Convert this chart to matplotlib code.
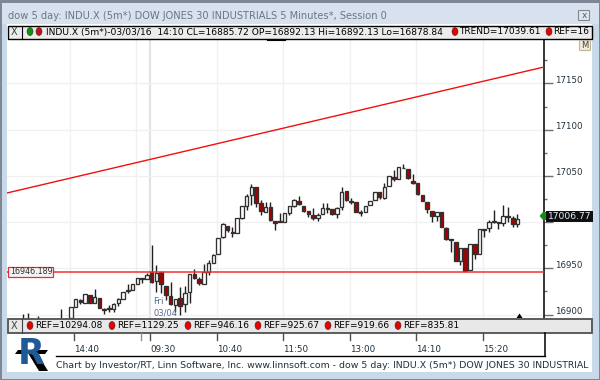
import matplotlib
matplotlib.use('Agg')
import matplotlib.pyplot as plt
import matplotlib.patches as mpatches
import numpy as np

# 5 minute bars, index 0 is the first bar after the 14:40 tick
barIndex = list(range(-11, 94))
openP = [16888, 16890, 16888, 16890, 16886, 16887, 16888, 16886, 16888, 16887, 16896,
         16908, 16916, 16913, 16921, 16913, 16918, 16906, 16907, 16906, 16912,
         16917, 16925, 16926, 16933, 16938, 16938, 16946, 16936, 16946, 16931,
         16920, 16910, 16918, 16911, 16924, 16944, 16938, 16933, 16946, 16956,
         16966, 16984, 16996, 16989, 16988, 17004, 17017, 17029, 17038, 17021,
         17011, 17016, 17001, 17000, 17000, 17010, 17017, 17023, 17017, 17012,
         17008, 17004, 17009, 17015, 17014, 17009, 17016, 17034, 17023, 17022,
         17011, 17011, 17018, 17024, 17033, 17026, 17039, 17049, 17047, 17058,
         17057, 17045, 17042, 17029, 17022, 17012, 17007, 17011, 16994, 16982,
         16979, 16958, 16972, 16948, 16976, 16965, 16992, 16994, 17000, 17000,
         16999, 17007, 17004, 16998]
highP = [16901, 16902, 16893, 16898, 16892, 16892, 16893, 16892, 16906, 16892, 16908,
         16908, 16917, 16922, 16921, 16928, 16918, 16907, 16910, 16912, 16918,
         16924, 16933, 16933, 16939, 16939, 16945, 16975, 16954, 16946, 16931,
         16935, 16917, 16930, 16931, 16944, 16949, 16941, 16955, 16959, 16966,
         16983, 16999, 16996, 16995, 17004, 17017, 17030, 17041, 17038, 17024,
         17022, 17022, 17001, 17010, 17010, 17017, 17025, 17028, 17017, 17012,
         17015, 17010, 17021, 17021, 17014, 17016, 17038, 17034, 17026, 17022,
         17013, 17017, 17023, 17033, 17033, 17042, 17050, 17056, 17060, 17063,
         17057, 17052, 17042, 17029, 17022, 17012, 17011, 17011, 16995, 16982,
         16979, 16958, 16972, 16976, 16976, 16992, 16992, 17002, 17013, 17000,
         17018, 17016, 17007, 17009]
lowP = [16885, 16886, 16884, 16886, 16882, 16883, 16884, 16882, 16884, 16884, 16894,
        16908, 16911, 16913, 16912, 16913, 16907, 16901, 16903, 16903, 16909,
        16917, 16923, 16926, 16933, 16934, 16938, 16934, 16924, 16923, 16916,
        16910, 16903, 16899, 16903, 16913, 16938, 16932, 16933, 16943, 16956,
        16966, 16983, 16989, 16984, 16988, 17003, 17013, 17018, 17016, 17008,
        17011, 17001, 16991, 17000, 17000, 17008, 17016, 17018, 17011, 17005,
        17002, 17001, 17009, 17010, 17008, 17004, 17013, 17023, 17020, 17011,
        17007, 17011, 17018, 17024, 17025, 17025, 17039, 17045, 17047, 17058,
        17047, 17041, 17029, 17023, 17010, 17000, 17001, 16995, 16981, 16968,
        16958, 16954, 16947, 16948, 16960, 16965, 16984, 16989, 16999, 16992,
        16996, 17000, 16995, 16995]
closeP = [16892, 16888, 16890, 16888, 16889, 16885, 16890, 16884, 16890, 16885, 16908,
          16917, 16914, 16922, 16912, 16919, 16907, 16905, 16906, 16911, 16917,
          16924, 16926, 16933, 16939, 16939, 16943, 16935, 16945, 16933, 16921,
          16911, 16917, 16909, 16923, 16944, 16939, 16934, 16946, 16956, 16964,
          16983, 16998, 16991, 16988, 17004, 17017, 17028, 17038, 17021, 17012,
          17016, 17002, 16999, 17001, 17010, 17017, 17024, 17020, 17012, 17009,
          17004, 17008, 17015, 17014, 17009, 17015, 17033, 17024, 17022, 17011,
          17010, 17017, 17023, 17033, 17027, 17038, 17050, 17047, 17060, 17059,
          17048, 17042, 17030, 17023, 17014, 17007, 17011, 16995, 16982, 16981,
          16958, 16972, 16947, 16976, 16965, 16992, 16991, 17000, 17001, 16999,
          17007, 17006, 16998, 17003]

trendP = [17031.5, 17167.8]
refP = 16946.189
lastP = 17006.77

priceTicks = [16900, 16950, 17000, 17050, 17100, 17150]
priceLabels = ['16900', '16950', '', '17050', '17100', '17150']
minorTicks = [16925, 16975, 17025, 17075, 17125, 17175]
timeTickIndex = [0, 14, 16, 30, 44, 58, 72, 86]
timeLabelIndex = [0, 16, 30, 44, 58, 72, 86]
timeLabels = ['14:40', '09:30', '10:40', '11:50', '13:00', '14:10', '15:20']
gridIndex = [-1, 13, 16, 30, 44, 58, 72, 86]

header1 = 'INDU.X (5m*)-03/03/16  14:10 CL=16885.72 OP=16892.13 Hi=16892.13 Lo=16878.84'
headerRefs = ['TREND=17039.61', 'REF=16']
footRefs = ['REF=10294.08', 'REF=1129.25', 'REF=946.16', 'REF=925.67', 'REF=919.66', 'REF=835.81']

title = 'dow 5 day: INDU.X (5m*) DOW JONES 30 INDUSTRIALS 5 Minutes*, Session 0'
footer = 'Chart by Investor/RT, Linn Software, Inc. www.linnsoft.com - dow 5 day: INDU.X (5m*) DOW JONES 30 INDUSTRIAL'

FONT = 'DejaVu Sans'
W, H = 600.0, 380.0

fig = plt.figure(figsize=(6, 3.8), dpi=100, facecolor='#c8d9ea')

# whole window in pixels, behind the chart
back = fig.add_axes([0, 0, 1, 1], zorder=0)
back.set_xlim(0, W)
back.set_ylim(H, 0)
back.axis('off')
back.add_patch(mpatches.Rectangle((0, 0), 600, 380, fc='#c8d9ea', ec='none'))
back.add_patch(mpatches.Rectangle((0, 0), 600, 3, fc='#7d8795', ec='none'))
back.add_patch(mpatches.Rectangle((0, 3), 600, 21, fc='#d7e2ee', ec='none'))
back.add_patch(mpatches.Rectangle((0, 0), 1.5, 380, fc='#7d8795', ec='none'))
back.add_patch(mpatches.Rectangle((598.5, 0), 1.5, 380, fc='#7d8795', ec='none'))
back.add_patch(mpatches.Rectangle((0, 378.5), 600, 1.5, fc='#7d8795', ec='none'))
back.add_patch(mpatches.Rectangle((7, 24), 585, 348, fc='white', ec='none'))

# price chart, x 7..544 and y 39..333 in pixels
ax = fig.add_axes([7 / W, 1 - 333 / H, 537 / W, 294 / H], zorder=1)
ax.set_xlim(-14.46, 98.59)
ax.set_ylim(16880.0, 17198.1)
ax.patch.set_alpha(0)
for s in ['top', 'left', 'bottom']:
    ax.spines[s].set_visible(False)
ax.spines['right'].set_linewidth(1.1)
ax.spines['right'].set_color('black')

gridX = np.array(gridIndex) - 0.3
for i, gx in enumerate(gridX):
    ax.axvline(gx, color='#e2e2e2' if gridIndex[i] == 16 else '#f0f0f0',
               lw=1.5 if gridIndex[i] == 16 else 1.0, zorder=1)
for p in priceTicks:
    ax.axhline(p, color='#f0f0f0', lw=1.0, zorder=1)

# candles
for i in range(len(barIndex)):
    x = barIndex[i]
    isUp = closeP[i] >= openP[i]
    ax.vlines(x, lowP[i], highP[i], color='#202020', lw=1.0, zorder=3)
    ax.add_patch(mpatches.Rectangle((x - 0.38, min(openP[i], closeP[i])), 0.76,
                                    abs(closeP[i] - openP[i]),
                                    fc='white' if isUp else '#a80000',
                                    ec='#303030', lw=0.95, zorder=4))

ax.plot(ax.get_xlim(), trendP, color='#f01010', lw=1.0, zorder=5)
ax.axhline(refP, color='#f53030', lw=1.1, zorder=5)

ax.yaxis.tick_right()
ax.set_yticks(priceTicks)
ax.set_yticks(minorTicks, minor=True)
ax.tick_params(axis='y', which='major', length=6.5, width=1.0, color='#707070', labelright=False)
ax.tick_params(axis='y', which='minor', length=2.5, width=1.0, color='#707070')
ax.set_xticks([])
for p, lab in zip(priceTicks, priceLabels):
    ax.annotate(lab, xy=(1, p), xycoords=('axes fraction', 'data'), xytext=(11 * 0.72, 3 * 0.72),
                textcoords='offset points', ha='left', va='center', fontsize=6.2,
                family=FONT, color='#20303c', zorder=6)

# overlay bars and labels in pixels
top = fig.add_axes([0, 0, 1, 1], zorder=2)
top.set_xlim(0, W)
top.set_ylim(H, 0)
top.axis('off')
top.patch.set_alpha(0)


def label(x, y, s, size=6.5, color='black', **kw):
    kw.setdefault('ha', 'left')
    kw.setdefault('va', 'center')
    return top.text(x, y, s, fontsize=size, color=color, family=FONT, **kw)


def dot(x, y, color='#e80000'):
    top.add_patch(mpatches.Ellipse((x, y), 6, 8, fc=color, ec='#303030', lw=0.4, zorder=5))


# title bar
label(8, 16, title, size=7.1, color='#6a7685')
top.add_patch(mpatches.FancyBboxPatch((579, 11), 10, 9, boxstyle='round,pad=0.5', fc='#dfe6ee', ec='#808890', lw=0.8))
label(584, 15.5, 'x', size=6.5, color='#505860', ha='center')

# header bar
top.add_patch(mpatches.Rectangle((7.5, 25.5), 584, 13, fc='#ececec', ec='black', lw=1.0))
top.plot([21.5, 21.5], [25.5, 38.5], color='black', lw=0.8)
label(14.5, 32, 'X', size=7, color='#404040', ha='center')
dot(30, 31.5, '#109010')
dot(39, 31.5, '#c01010')
label(46, 32, header1, size=6.6)
dot(455, 31.5)
label(459, 32, headerRefs[0])
dot(549, 31.5)
label(553, 32, headerRefs[1])
top.plot([268, 285], [39.5, 39.5], color='black', lw=1.5)

# M button
top.add_patch(mpatches.FancyBboxPatch((580, 41), 10, 9, boxstyle='round,pad=0.5', fc='#f2ead8', ec='#c0b498', lw=0.8))
label(585, 45.5, 'M', size=6, color='#404040', ha='center')

# reference label
top.add_patch(mpatches.Rectangle((8, 266.5), 45, 10.5, fc='#f4f4f4', ec='#e83030', lw=0.9))
label(10.5, 272, '16946.189', size=5.8, color='#303030')

# session date
label(153, 302, 'Fri', size=6.3, color='#556a8c')
label(153, 313, '03/04', size=6.0, color='#556a8c')

# last price
top.add_patch(mpatches.Rectangle((546, 211), 47, 11, fc='#101010', ec='none'))
top.add_patch(mpatches.Polygon([(539.5, 216), (543, 212), (546, 212), (546, 220), (543, 220)], fc='#109010', ec='none'))
label(548, 216.3, '%.2f' % lastP, size=6.6, color='#dff0ff')

# bottom bar
top.add_patch(mpatches.Polygon([(516.5, 318), (519.5, 313.5), (522.5, 318)], fc='black', ec='none'))
top.add_patch(mpatches.Rectangle((7.5, 319), 584, 13.5, fc='#e8e8e8', ec='#505050', lw=1.3))
top.plot([21.5, 21.5], [319, 332.5], color='#404040', lw=0.8)
label(14.5, 326, 'X', size=7, color='#404040', ha='center')
footDots = [30, 112, 188, 258, 328, 398]
for dx, s in zip(footDots, footRefs):
    dot(dx, 325.5)
    label(dx + 5, 326, s, size=6.5)

# time axis
toX = lambda i: 75.7 + 4.75 * i - 1.4
for i in timeTickIndex:
    top.plot([toX(i), toX(i)], [333, 340], color='#505050' if i != 14 else '#909090', lw=1.0)
top.plot([56, 544.5], [355.8, 355.8], color='black', lw=1.0)
top.plot([544.5, 544.5], [333, 356], color='black', lw=1.1)
for i, s in zip(timeLabelIndex, timeLabels):
    label(toX(i), 350, s, size=6.3, color='#20303c')

# logo, blue R with black band and leg
label(18, 364, 'R', size=25, color='#1f5a96', weight='bold', va='baseline')
top.add_patch(mpatches.Polygon([(28, 353), (37, 353), (48, 371), (39, 371)], fc='black', ec='none'))
top.add_patch(mpatches.Polygon([(15, 354), (18, 350), (48, 350), (45, 354)], fc='black', ec='none'))

label(56, 366, footer, size=6.74, color='#20303c')

fig.savefig('out.png', dpi=100, facecolor=fig.get_facecolor())
plt.close()
